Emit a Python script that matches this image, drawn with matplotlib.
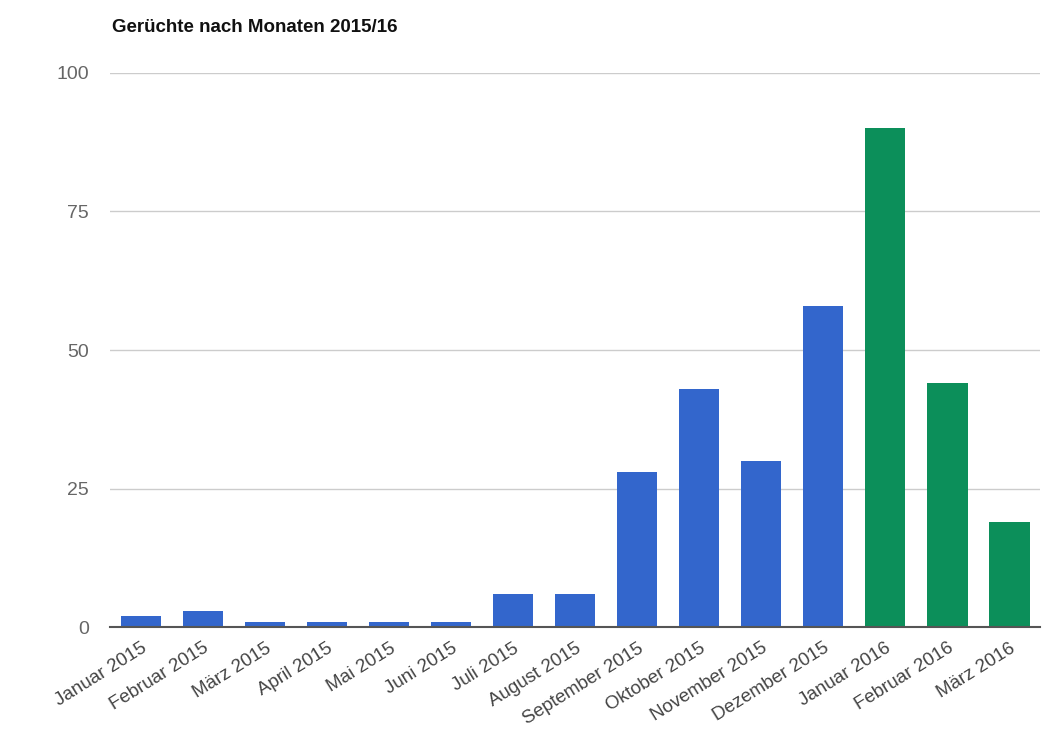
import matplotlib
matplotlib.use("Agg")
from matplotlib import pyplot as plt

plt.rcParams['font.family'] = ['Liberation Sans', 'DejaVu Sans']

months = ["Januar 2015", "Februar 2015", "März 2015", "April 2015", "Mai 2015",
          "Juni 2015", "Juli 2015", "August 2015", "September 2015", "Oktober 2015",
          "November 2015", "Dezember 2015", "Januar 2016", "Februar 2016", "März 2016"]
counts = [2, 3, 1, 1, 1, 1, 6, 6, 28, 43, 30, 58, 90, 44, 19]
colors = ["#3366cc"] * 12 + ["#0c8f5a"] * 3
yticks = [0, 25, 50, 75, 100]

fig = plt.figure(figsize=(10.43, 7.44), dpi=100)
ax = fig.add_axes([0.1055, 0.157, 0.892, 0.745])

x = list(range(len(months)))
ax.bar(x, counts, width=0.65, color=colors, zorder=3)

ax.set_xlim(-0.5, len(months) - 0.5)
ax.set_ylim(0, 100)
ax.set_yticks(yticks)
ax.set_yticklabels([str(t) for t in yticks], fontsize=14, color="#666666")
ax.tick_params(axis="y", length=0, pad=15)
ax.yaxis.grid(True, color="#cccccc", linewidth=1)
ax.set_axisbelow(True)

ax.set_xticks(x)
ax.set_xticklabels(months, rotation=32, ha="right", rotation_mode="anchor",
                   fontsize=13.5, color="#444444")
ax.tick_params(axis="x", length=0, pad=9)

for s in ["top", "right", "left"]:
    ax.spines[s].set_visible(False)
ax.spines["bottom"].set_color("#555555")
ax.spines["bottom"].set_linewidth(1.5)
ax.spines["bottom"].set_zorder(4)

fig.text(0.107, 0.963, "Gerüchte nach Monaten 2015/16", fontsize=13.5,
         fontweight="bold", color="#111111", va="center", ha="left")

fig.savefig("out.png", dpi=100)
